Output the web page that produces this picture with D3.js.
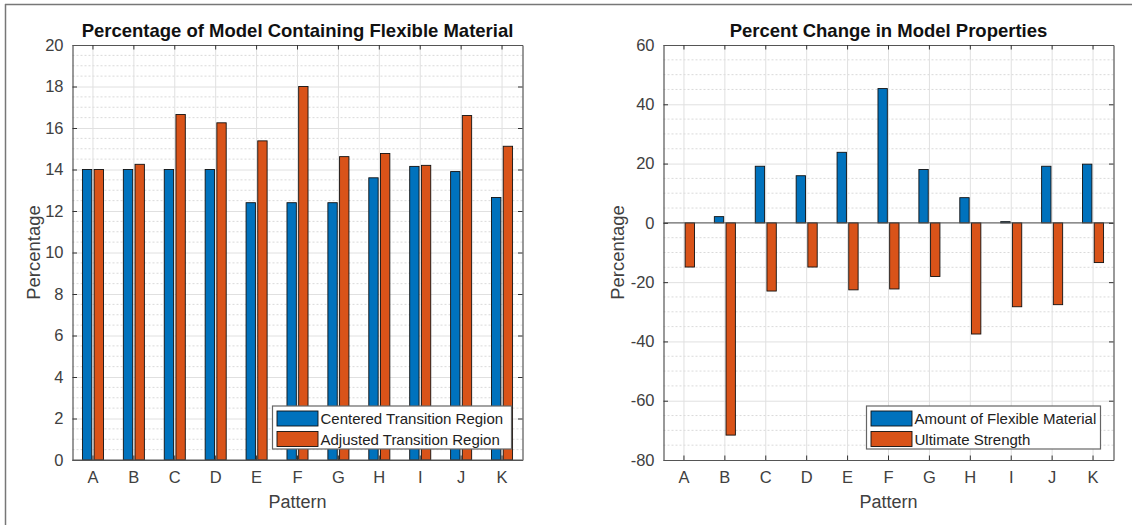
<!DOCTYPE html>
<html>
<head>
<meta charset="utf-8">
<script src="https://cdn.jsdelivr.net/npm/d3@7"></script>
<style>
html,body{margin:0;padding:0;background:#fff;}
svg{display:block;font-family:"Liberation Sans",Arial,Helvetica,sans-serif;}
</style>
</head>
<body>
<svg id="chart" width="1132" height="525"></svg>
<script>
// ---- data ----
const categories = ["A","B","C","D","E","F","G","H","I","J","K"];
const centeredRegion = [14.0,14.0,14.0,14.0,12.4,12.4,12.4,13.6,14.15,13.9,12.65];
const adjustedRegion = [14.0,14.25,16.65,16.25,15.38,18.0,14.62,14.77,14.2,16.6,15.12];
const flexibleAmount = [0,2.1,19.1,15.9,23.8,45.3,18.0,8.5,0.4,19.1,19.8];
const ultimateStrength = [-14.9,-71.6,-23.0,-14.9,-22.6,-22.3,-18.1,-37.5,-28.3,-27.6,-13.4];
const leftTicks = [0,2,4,6,8,10,12,14,16,18,20];
const rightTicks = [-80,-60,-40,-20,0,20,40,60];

const blue = "#0072BD", orange = "#D95319";
const txt = "#404040";
const svg = d3.select("#chart");

// figure frame
svg.append("line").attr("x1",5).attr("x2",1132).attr("y1",4.5).attr("y2",4.5).attr("stroke","#777").attr("stroke-width",1.5);
svg.append("line").attr("x1",5.5).attr("x2",5.5).attr("y1",4).attr("y2",525).attr("stroke","#777").attr("stroke-width",1.5);

function drawPanel(opt){
  const {x0,x1,y0,y1,domain,ticks,minorStep,s1,s2,names,title,legend} = opt;
  const g = svg.append("g");
  const x = d3.scaleBand().domain(categories).range([x0,x1]).padding(0);
  const y = d3.scaleLinear().domain(domain).range([y1,y0]);
  const bw = x.bandwidth();
  // minor grid
  const minor = d3.range(domain[0], domain[1]+1e-9, minorStep).filter(v=>!ticks.includes(v));
  g.append("g").selectAll("line").data(minor).join("line")
    .attr("x1",x0).attr("x2",x1).attr("y1",d=>y(d)).attr("y2",d=>y(d))
    .attr("stroke","#d0d0d0").attr("stroke-width",0.8).attr("stroke-dasharray","2,2");
  // major grid y
  g.append("g").attr("transform",`translate(${x0},0)`)
    .call(d3.axisLeft(y).tickValues(ticks).tickSize(-(x1-x0)).tickFormat(""))
    .call(a=>a.select(".domain").remove())
    .call(a=>a.selectAll("line").attr("stroke","#e0e0e0").attr("stroke-width",1));
  // major grid x
  g.append("g").attr("transform",`translate(0,${y0})`)
    .call(d3.axisBottom(x).tickSize(y1-y0).tickFormat(""))
    .call(a=>a.select(".domain").remove())
    .call(a=>a.selectAll("line").attr("stroke","#e0e0e0").attr("stroke-width",1));
  // bars
  const w = bw*0.2286, off = bw*0.1429;
  [[s1,-off,blue],[s2,off,orange]].forEach(([vals,o,col])=>{
    g.append("g").selectAll("rect").data(vals).join("rect")
      .attr("x",(d,i)=>x(categories[i])+bw/2+o-w/2)
      .attr("width",w)
      .attr("y",d=>y(Math.max(0,d)))
      .attr("height",d=>Math.abs(y(d)-y(0)))
      .attr("fill",col).attr("stroke","#111").attr("stroke-width",0.9);
  });
  // baseline
  g.append("line").attr("x1",x0).attr("x2",x1).attr("y1",y(0)).attr("y2",y(0)).attr("stroke","#555").attr("stroke-width",1);
  // axes
  const tl = 4.5;
  const yl = g.append("g").attr("transform",`translate(${x0},0)`)
    .call(d3.axisLeft(y).tickValues(ticks).tickSizeInner(-tl).tickSizeOuter(0).tickPadding(9).tickFormat(d=>String(d)));
  const yr = g.append("g").attr("transform",`translate(${x1},0)`)
    .call(d3.axisRight(y).tickValues(ticks).tickSizeInner(-tl).tickSizeOuter(0).tickFormat(""));
  const xb = g.append("g").attr("transform",`translate(0,${y1})`)
    .call(d3.axisBottom(x).tickSizeInner(-tl).tickSizeOuter(0).tickPadding(11));
  const xt = g.append("g").attr("transform",`translate(0,${y0})`)
    .call(d3.axisTop(x).tickSizeInner(-tl).tickSizeOuter(0).tickFormat(""));
  [yl,yr,xb,xt].forEach(a=>{
    a.select(".domain").attr("stroke","#555").attr("stroke-width",1.2);
    a.selectAll(".tick line").attr("stroke","#333").attr("stroke-width",1);
    a.selectAll("text").attr("fill",txt).style("font-size","16.5px");
  });
  // title
  g.append("text").attr("x",(x0+x1)/2).attr("y",y0-8).attr("text-anchor","middle")
    .style("font-size","18.5px").style("font-weight","bold").attr("fill","#111").text(title);
  // axis labels
  g.append("text").attr("x",(x0+x1)/2).attr("y",y1+48).attr("text-anchor","middle")
    .style("font-size","18px").attr("fill",txt).text("Pattern");
  g.append("text").attr("transform",`translate(${opt.ylabX},${(y0+y1)/2}) rotate(-90)`)
    .attr("text-anchor","middle").style("font-size","18.5px").attr("fill",txt).text("Percentage");
  // legend
  const L = legend;
  const lg = g.append("g");
  lg.append("rect").attr("x",L.x).attr("y",L.y).attr("width",L.w).attr("height",L.h)
    .attr("fill","#fff").attr("stroke","#666").attr("stroke-width",1.2);
  [[names[0],blue],[names[1],orange]].forEach(([n,c],i)=>{
    const cy = L.y + 12.5 + i*20.5;
    lg.append("rect").attr("x",L.x+4.5).attr("y",cy-7.5).attr("width",41).attr("height",15)
      .attr("fill",c).attr("stroke","#111").attr("stroke-width",0.9);
    lg.append("text").attr("x",L.x+48).attr("y",cy+5.5).style("font-size","15px").attr("fill","#222").text(n);
  });
}

drawPanel({x0:72.5,x1:522.5,y0:45,y1:460,domain:[0,20],ticks:leftTicks,minorStep:0.5,
  s1:centeredRegion,s2:adjustedRegion,names:["Centered Transition Region","Adjusted Transition Region"],
  title:"Percentage of Model Containing Flexible Material",ylabX:40,
  legend:{x:272.5,y:406,w:239,h:43}});
drawPanel({x0:663.5,x1:1113.5,y0:45,y1:460,domain:[-80,60],ticks:rightTicks,minorStep:5,
  s1:flexibleAmount,s2:ultimateStrength,names:["Amount of Flexible Material","Ultimate Strength"],
  title:"Percent Change in Model Properties",ylabX:624,
  legend:{x:866.5,y:406,w:234,h:43}});
</script>
</body>
</html>
